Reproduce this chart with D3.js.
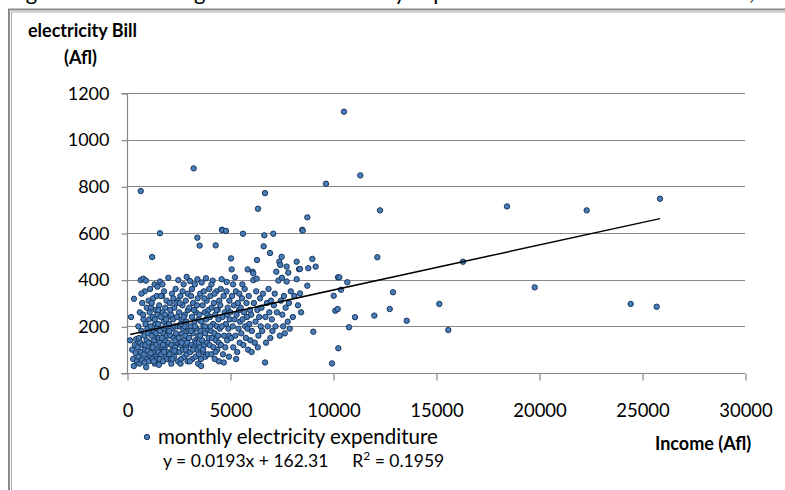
<!DOCTYPE html>
<html>
<head>
<meta charset="utf-8">
<script src="https://cdn.jsdelivr.net/npm/d3@7"></script>
<style>
  html, body { margin: 0; padding: 0; background: #fff; }
  svg { display: block; }
  text { font-family: Lato, "Open Sans", sans-serif; fill: #000; }
</style>
</head>
<body>
<svg id="chart" width="785" height="490"></svg>
<script>
// ---------- DATA ----------
const xTicks = [0, 5000, 10000, 15000, 20000, 25000, 30000];
const yTicks = [0, 200, 400, 600, 800, 1000, 1200];
const seriesName = "monthly electricity expenditure";
const trendSlope = 0.0193;
const trendIntercept = 162.31;
const rSquared = 0.1959;
const yTitle = ["electricity Bill", "(Afl)"];
const xTitle = "Income (Afl)";
const caption = "Figure 6 Scatter diagram of the electricity expenditure and household income,";

// [income, electricity bill] — dense cluster, low incomes
const clusterPoints = [
  [150,140],[200,240],[250,100],[300,60],[330,30],[340,318],[380,120],[420,85],[450,145],[480,50],
  [520,110],[550,200],[560,70],[580,150],[600,40],[620,260],[640,130],[665,398],[680,90],[700,180],
  [720,55],[740,300],[760,120],[790,404],[800,230],[820,80],[840,160],[860,350],[880,100],[900,210],
  [920,396],[930,25],[950,140],[960,280],[980,60],[990,190],[700,340],[850,45],[780,250],[900,120],
  [1010,95],[1030,170],[1050,310],[1060,50],[1080,230],[1100,130],[1120,360],[1130,75],[1150,200],[1170,280],
  [1190,110],[1200,160],[1220,497],[1240,60],[1250,240],[1270,320],[1290,90],[1300,180],[1320,140],[1340,380],
  [1350,40],[1370,210],[1390,270],[1400,120],[1420,70],[1440,330],[1450,190],[1470,100],[1480,250],[1490,150],
  [1050,130],[1150,85],[1250,110],[1350,230],[1450,60],[1100,260],[1200,300],[1300,50],[1400,170],[1480,370],
  [1510,210],[1520,90],[1540,150],[1560,290],[1580,60],[1600,599],[1602,392],[1620,130],[1640,240],[1660,80],
  [1680,190],[1700,330],[1710,110],[1730,260],[1750,50],[1770,170],[1790,220],[1800,350],[1820,100],[1840,140],
  [1860,280],[1880,70],[1890,200],[1900,120],[1920,310],[1940,160],[1960,90],[1980,240],[1990,180],[1550,35],
  [1650,330],[1750,120],[1850,250],[1950,60],[1600,180],[1700,150],[1800,90],[1900,230],[1520,270],[1720,380],
  [2006,408],[2020,130],[2040,210],[2060,80],[2080,300],[2100,160],[2120,60],[2140,250],[2160,120],[2180,340],
  [2200,190],[2220,100],[2240,230],[2260,150],[2280,70],[2300,280],[2320,200],[2340,110],[2360,360],[2380,170],
  [2400,90],[2420,240],[2440,130],[2460,310],[2480,50],[2492,398],[2050,180],[2150,40],[2250,320],[2350,140],
  [2450,200],[2100,270],[2300,95],[2400,300],[2200,60],
  [2510,150],[2530,260],[2550,90],[2570,200],[2590,330],[2610,120],[2630,60],[2650,230],[2670,170],[2690,290],
  [2710,100],[2730,190],[2750,380],[2770,140],[2790,70],[2810,250],[2830,160],[2850,310],[2870,110],[2890,220],
  [2896,412],[2920,130],[2940,50],[2960,270],[2980,180],[2600,40],[2700,350],[2800,200],[2900,80],[2550,300],
  [2650,130],[2750,240],[2850,100],[2950,340],[2600,210],
  [3010,150],[3030,280],[3058,394],[3070,90],[3090,200],[3110,330],[3130,120],[3150,240],[3170,60],[3190,170],
  [3210,300],[3236,877],[3250,110],[3270,220],[3290,380],[3310,140],[3330,70],[3350,260],[3370,190],[3390,100],
  [3414,580],[3420,402],[3430,320],[3450,160],[3470,230],[3490,80],[3050,50],[3150,360],[3250,270],[3350,130],
  [3450,40],[3100,180],[3200,100],[3300,200],[3400,290],[3480,130],[3527,546],
  [3510,250],[3530,110],[3550,340],[3570,180],[3590,60],[3610,220],[3625,388],[3650,140],[3670,290],[3690,90],
  [3710,200],[3730,350],[3750,120],[3770,260],[3790,170],[3810,70],[3835,406],[3850,230],[3870,310],[3890,130],
  [3910,190],[3930,80],[3950,270],[3970,150],[3990,360],[3600,30],[3700,100],[3800,200],[3900,250],[3550,160],
  [3750,320],
  [4010,120],[4030,240],[4050,330],[4070,180],[4090,80],[4110,280],[4130,150],[4159,396],[4180,210],[4200,110],
  [4220,300],[4240,170],[4260,60],[4280,250],[4304,547],[4320,140],[4340,350],[4360,200],[4380,100],[4400,270],
  [4420,160],[4440,230],[4460,50],[4480,310],[4100,380],[4300,90],[4450,130],[4050,200],[4250,340],[4350,270],
  [4510,190],[4530,290],[4560,120],[4596,402],[4612,614],[4627,612],[4640,240],[4660,80],[4690,330],[4710,160],
  [4740,260],[4770,110],[4806,609],[4800,210],[4830,350],[4838,390],[4860,140],[4890,280],[4920,190],[4950,70],
  [4970,310],[4990,230],[4550,360],[4700,45],[4850,250],[4950,160],[4600,200],
  [5020,260],[5049,491],[5060,150],[5081,444],[5100,330],[5130,200],[5160,110],[5190,290],[5220,230],[5243,410],
  [5260,160],[5290,350],[5320,250],[5350,90],[5380,300],[5410,190],[5440,270],[5470,130],[5490,220],[5150,380],
  [5300,60],[5450,340],
  [5520,280],[5550,170],[5580,320],[5610,230],[5631,597],[5650,120],[5680,260],[5710,360],[5740,200],[5770,150],
  [5800,300],[5830,240],[5858,444],[5880,100],[5910,330],[5940,210],[5970,270],[5990,140],[5600,380],[5850,190],
  [6030,250],[6060,180],[6100,434],[6130,427],[6133,398],[6160,300],[6200,130],[6240,220],[6270,350],[6295,404],
  [6311,484],[6330,270],[6359,704],[6380,160],[6420,240],[6460,320],[6490,200],[6050,90],[6350,110],
  [6530,280],[6560,180],[6600,340],[6634,543],[6665,590],[6699,771],[6702,45],[6720,240],[6750,130],[6790,300],
  [6830,200],[6870,360],[6910,260],[6942,514],[6960,150],[6990,310],
  [7030,230],[7060,180],[7102,597],[7130,290],[7170,340],[7210,200],[7248,434],[7280,260],[7347,396],[7393,477],
  [7420,160],[7442,463],[7470,310],
  [7508,498],[7520,408],[7540,250],[7580,200],[7620,330],[7660,170],[7700,280],[7751,392],[7750,456],[7800,220],
  [7830,430],[7860,300],[7900,190],[7950,350],
  [8050,240],[8120,330],[8236,477],[8237,402],[8300,290],[8350,445],[8398,446],[8398,341],[8450,260],
  [665,780]
];

// [income, electricity bill] — higher incomes / outliers
const outlierPoints = [
  [8510,614],[8529,610],[8754,667],[8754,374],[8800,449],[8997,489],[9045,177],[9159,456],[9660,811],[9951,41],
  [10034,331],[10112,267],[10228,274],[10243,410],[10258,106],[10306,410],[10388,357],[10534,1120],[10694,389],
  [10777,196],[11068,239],[11325,847],[12005,246],[12152,496],[12282,697],[12752,274],[12913,346],[13578,224],
  [15160,296],[15597,184],[16311,477],[18447,714],[19791,367],[22315,697],[24450,296],[25713,284],[25874,747]
];

// ---------- CHART ----------
const svg = d3.select("#chart");
const plot = { left: 127, right: 745, top: 93, bottom: 373 };

const x = d3.scaleLinear().domain([0, 30000]).range([plot.left, plot.right]);
const y = d3.scaleLinear().domain([0, 1200]).range([plot.bottom, plot.top]);

// frame (double border)
svg.append("path").attr("d", "M785,9.5 H9 V490")
  .attr("fill", "none").attr("stroke", "#8a8a8a").attr("stroke-width", 2);
svg.append("path").attr("d", "M785,12 H11.5 V490")
  .attr("fill", "none").attr("stroke", "#a8a8a8").attr("stroke-width", 1);

// caption (clipped by the top edge, as in the source)
svg.append("text").attr("x", 8).attr("y", 0)
  .attr("font-size", 22).text(caption);

// gridlines
svg.append("g").selectAll("line").data(yTicks).join("line")
  .attr("x1", plot.left).attr("x2", plot.right)
  .attr("y1", d => Math.round(y(d)) + 0.5).attr("y2", d => Math.round(y(d)) + 0.5)
  .attr("stroke", "#878787").attr("stroke-width", 1.2);

// y axis
const yAxis = svg.append("g").attr("transform", `translate(${plot.left + 0.5},0.5)`)
  .call(d3.axisLeft(y).tickValues(yTicks).tickSize(6).tickPadding(12).tickFormat(d3.format("d")));
yAxis.select(".domain").attr("stroke", "#878787").attr("stroke-width", 1.2).attr("d", `M-6,${plot.top}H0V${plot.bottom}H-6`);
yAxis.selectAll(".tick line").attr("stroke", "#878787").attr("stroke-width", 1.2);
yAxis.selectAll(".tick text").attr("font-size", 18).attr("font-family", "Lato, sans-serif").attr("fill", "#000");

// x axis
const xAxis = svg.append("g").attr("transform", `translate(0.5,${plot.bottom + 0.5})`)
  .call(d3.axisBottom(x).tickValues(xTicks).tickSize(7).tickPadding(23).tickFormat(d3.format("d")));
xAxis.select(".domain").remove();
xAxis.selectAll(".tick line").attr("stroke", "#878787").attr("stroke-width", 1.2);
xAxis.selectAll(".tick text").attr("font-size", 18.5).attr("font-family", "Lato, sans-serif").attr("fill", "#000");

// points
const allPoints = clusterPoints.concat(outlierPoints);
svg.append("g").selectAll("circle").data(allPoints).join("circle")
  .attr("cx", d => x(d[0])).attr("cy", d => y(d[1])).attr("r", 2.7)
  .attr("fill", "#4a7cb8").attr("stroke", "#17375e").attr("stroke-width", 1);

// trendline
const xExtent = d3.extent(allPoints, d => d[0]);
svg.append("line")
  .attr("x1", x(xExtent[0])).attr("y1", y(trendSlope * xExtent[0] + trendIntercept))
  .attr("x2", x(xExtent[1])).attr("y2", y(trendSlope * xExtent[1] + trendIntercept))
  .attr("stroke", "#000").attr("stroke-width", 1.5);

// axis titles
svg.append("text").attr("x", 28).attr("y", 37).attr("font-size", 18).attr("font-weight", "bold").text(yTitle[0]);
svg.append("text").attr("x", 64).attr("y", 64).attr("font-size", 18).attr("font-weight", "bold").text(yTitle[1]);
svg.append("text").attr("x", 655).attr("y", 450).attr("font-size", 18).attr("font-weight", "bold").text(xTitle);

// legend
svg.append("circle").attr("cx", 147).attr("cy", 437).attr("r", 2.7)
  .attr("fill", "#4a7cb8").attr("stroke", "#17375e").attr("stroke-width", 1);
svg.append("text").attr("x", 158).attr("y", 444).attr("font-size", 20.5).text(seriesName);
const eq = svg.append("text").attr("x", 163).attr("y", 467).attr("font-size", 17.5);
eq.append("tspan").text(`y = ${trendSlope}x + ${trendIntercept}`);
eq.append("tspan").attr("dx", 24).text("R");
eq.append("tspan").attr("font-size", 12).attr("dy", -7).text("2");
eq.append("tspan").attr("dy", 7).text(` = ${rSquared}`);
</script>
</body>
</html>
